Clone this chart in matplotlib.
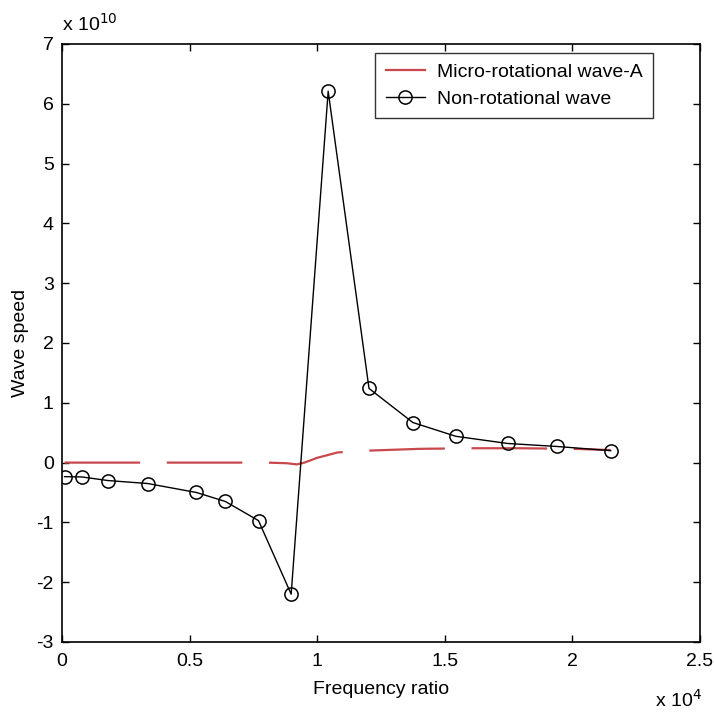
import matplotlib
matplotlib.use("Agg")
import matplotlib.pyplot as plt
from matplotlib.lines import Line2D

plt.rcParams['font.family'] = ['Liberation Sans', 'DejaVu Sans']

# Non-rotational wave (x in Hz-ratio, y in 1e10)
nonrot_x = [100, 780, 1800, 3360, 5270, 6400, 7700, 8980, 10430, 12030, 13750, 15430, 17460, 19380, 21500]
nonrot_y = [-0.235, -0.24, -0.30, -0.35, -0.50, -0.65, -0.97, -2.20, 6.21, 1.24, 0.67, 0.44, 0.32, 0.27, 0.20]

# Micro-rotational wave-A
micro_x = [100, 2000, 4000, 6000, 8000, 8800, 9200, 9500, 10000, 10800, 12000, 14000, 16000, 18000, 20000, 21500]
micro_y = [0.0, 0.0, 0.0, 0.0, 0.0, -0.01, -0.03, 0.0, 0.08, 0.17, 0.20, 0.23, 0.24, 0.24, 0.23, 0.21]

xticks = [0, 5000, 10000, 15000, 20000, 25000]
xtick_labels = ['0', '0.5', '1', '1.5', '2', '2.5']
yticks = [-3, -2, -1, 0, 1, 2, 3, 4, 5, 6, 7]
ytick_labels = ['-3', '-2', '-1', '0', '1', '2', '3', '4', '5', '6', '7']

fig = plt.figure(figsize=(7.14, 7.15), dpi=100)
ax = fig.add_axes([62/714, 1 - 642/715, (700-62)/714, (642-44)/715])

red = '#c8484c'
ax.plot(micro_x, micro_y, color=red, lw=1.6, dashes=(34, 12))
line_n, = ax.plot(nonrot_x, nonrot_y, color='black', lw=1.0, marker='o', markersize=9.5,
                  markerfacecolor='none', markeredgecolor='black', markeredgewidth=1.1)

ax.set_xlim(0, 25000)
ax.set_ylim(-3, 7)
ax.set_xticks(xticks)
ax.set_xticklabels(xtick_labels)
ax.set_yticks(yticks)
ax.set_yticklabels(ytick_labels)
ax.tick_params(direction='in', top=True, right=True, length=5, width=1, labelsize=14)
ax.tick_params(axis='x', pad=8)
ax.tick_params(axis='y', pad=6)
for s in ax.spines.values():
    s.set_linewidth(1.2)

ax.set_xlabel('Frequency ratio', fontsize=14, labelpad=8)
ax.set_ylabel('Wave speed', fontsize=14, labelpad=5)

fig.text(62/714, 1 - 24/715, r'x 10$^{10}$', fontsize=14, ha='left', va='center')
fig.text(655/714, 1 - 700/715, r'x 10$^{4}$', fontsize=14, ha='left', va='center')

h1 = Line2D([], [], color=red, lw=1.6)
leg = ax.legend([h1, line_n], ['Micro-rotational wave-A', 'Non-rotational wave'],
                loc='upper right',
                bbox_to_anchor=((653 - 62) / (700 - 62), 1 - (53 - 44) / (642 - 44)),
                borderaxespad=0, fontsize=14,
                frameon=True, fancybox=False, edgecolor='black', handlelength=2.0,
                labelspacing=0.45, handletextpad=0.6, borderpad=0.55)
leg.get_frame().set_linewidth(1.0)

fig.savefig('out.png', dpi=100)
